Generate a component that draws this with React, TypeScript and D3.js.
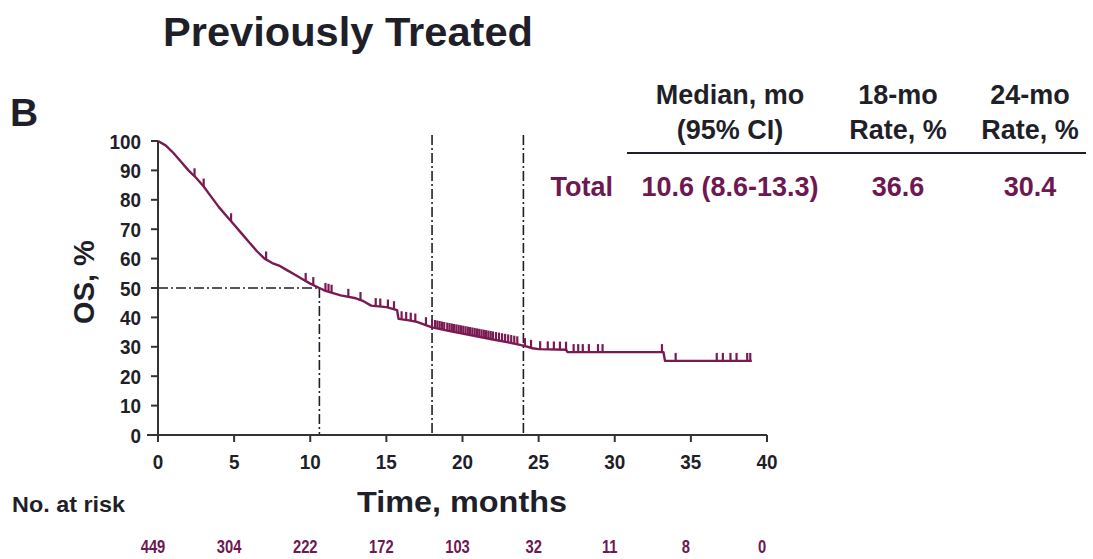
import React from "react";
import * as d3 from "d3";

const curveTimes = [0, 0.5, 1, 1.5, 2, 2.5, 3, 3.5, 4, 4.5, 5, 5.5, 6, 6.5, 7, 7.5, 8, 8.5, 9, 9.5, 10, 10.6, 11, 12, 13, 13.5, 14, 15, 15.7, 15.8, 16.5, 17, 18, 19, 20, 21, 22, 23, 24, 24.6, 25, 26.8, 26.9, 33.2, 33.3, 39];
const curveSurv = [100, 98.5, 96, 93, 90, 87.5, 84.5, 81, 77.5, 74.5, 71.5, 68.5, 65.5, 62.5, 60, 58.5, 57.5, 56, 54.5, 53, 51.5, 50, 49, 47.5, 46.5, 45.5, 44, 43.5, 42.5, 39.5, 39, 38.5, 36.6, 35.5, 34.5, 33.5, 32.5, 31.5, 30.4, 29.5, 29.2, 29, 28.2, 28.2, 25.2, 25.2];
const censorTimes = [2.4, 3.0, 4.8, 7.1, 9.7, 10.2, 11.0, 11.2, 11.4, 12.5, 13.3, 14.3, 14.6, 15.1, 15.5, 16.0, 16.3, 16.6, 16.9, 17.6, 18.0, 18.2, 18.35, 18.5, 18.65, 18.8, 19.0, 19.15, 19.3, 19.45, 19.6, 19.75, 19.9, 20.05, 20.2, 20.35, 20.5, 20.65, 20.8, 20.95, 21.1, 21.25, 21.4, 21.55, 21.7, 21.85, 22.0, 22.2, 22.4, 22.6, 22.8, 23.0, 23.2, 23.4, 23.6, 24.1, 24.5, 25.1, 25.6, 26.0, 26.4, 26.8, 27.3, 27.6, 27.9, 28.3, 28.9, 29.2, 33.1, 34.0, 36.7, 37.1, 37.6, 38.0, 38.7, 38.9];
const xTicks = [0, 5, 10, 15, 20, 25, 30, 35, 40];
const yTicks = [0, 10, 20, 30, 40, 50, 60, 70, 80, 90, 100];
const atRisk = [449, 304, 222, 172, 103, 32, 11, 8, 0];
const medianMonths = 10.6;
const rateMonths = [18, 24];
const tableHeaders1 = ["Median, mo", "18-mo", "24-mo"];
const tableHeaders2 = ["(95% CI)", "Rate, %", "Rate, %"];
const tableRowLabel = "Total";
const tableRow = ["10.6 (8.6-13.3)", "36.6", "30.4"];

const PURPLE = "#6e1750";
const CURVE = "#7a1a52";
const INK = "#1f1f2a";
const SANS = "'Liberation Sans', Arial, sans-serif";

function Txt(props: { x: number; y: number; size: number; sx?: number; anchor?: string; fill?: string; children: React.ReactNode; len?: number }) {
  const { x, y, size, sx = 1, anchor = "start", fill = INK, children, len } = props;
  return (
    <text
      transform={`translate(${x},${y}) scale(${sx},1)`}
      textAnchor={anchor}
      fontFamily={SANS}
      fontWeight="bold"
      fontSize={size}
      fill={fill}
      {...(len ? { textLength: len, lengthAdjust: "spacingAndGlyphs" } : {})}
    >
      {children}
    </text>
  );
}

export default function App() {
  const x = d3.scaleLinear().domain([0, 40]).range([158, 767]);
  const y = d3.scaleLinear().domain([0, 100]).range([435, 141]);
  const pts: [number, number][] = curveTimes.map((t, i) => [t, curveSurv[i]]);
  const line = d3.line<[number, number]>().x((d) => x(d[0])).y((d) => y(d[1]));
  const survAt = (t: number) => {
    for (let i = curveTimes.length - 1; i >= 0; i--) {
      if (curveTimes[i] <= t) {
        if (i === curveTimes.length - 1) return curveSurv[i];
        const t0 = curveTimes[i], t1 = curveTimes[i + 1];
        const f = (t - t0) / (t1 - t0);
        return curveSurv[i] + f * (curveSurv[i + 1] - curveSurv[i]);
      }
    }
    return 100;
  };
  const dash = "10 3 2 3";
  const colX = [730, 898, 1030];
  return (
    <svg width={1093} height={559} style={{ position: "absolute", left: 0, top: 0, background: "#fff" }}>
      <Txt x={163} y={46} size={41} len={370}>Previously Treated</Txt>
      <Txt x={10} y={126} size={39}>B</Txt>

      {/* table */}
      {tableHeaders1.map((h, i) => (
        <Txt key={"h1" + i} x={colX[i]} y={104} size={27} anchor="middle">{h}</Txt>
      ))}
      {tableHeaders2.map((h, i) => (
        <Txt key={"h2" + i} x={colX[i]} y={139} size={27} anchor="middle">{h}</Txt>
      ))}
      <line x1={627} x2={1086} y1={153} y2={153} stroke={INK} strokeWidth={2.2} />
      <Txt x={613} y={196} size={27} anchor="end" fill={PURPLE}>{tableRowLabel}</Txt>
      {tableRow.map((v, i) => (
        <Txt key={"r" + i} x={colX[i]} y={196} size={27} anchor="middle" fill={PURPLE}>{v}</Txt>
      ))}

      {/* reference lines */}
      <line x1={x(0)} x2={x(medianMonths)} y1={y(50)} y2={y(50)} stroke={INK} strokeWidth={1.6} strokeDasharray={dash} />
      <line x1={x(medianMonths)} x2={x(medianMonths)} y1={y(50)} y2={y(0)} stroke={INK} strokeWidth={1.6} strokeDasharray={dash} />
      {rateMonths.map((m) => (
        <line key={m} x1={x(m)} x2={x(m)} y1={135} y2={y(0)} stroke={INK} strokeWidth={1.6} strokeDasharray={dash} />
      ))}

      {/* axes */}
      <line x1={x(0)} x2={x(0)} y1={y(100)} y2={442} stroke="#333" strokeWidth={2} />
      {yTicks.map((t) => (
        <g key={"y" + t}>
          <line x1={x(0) - 7} x2={x(0)} y1={y(t)} y2={y(t)} stroke="#333" strokeWidth={2} />
          <Txt x={141} y={y(t) + 7.5} size={21} sx={0.9} anchor="end">{t}</Txt>
        </g>
      ))}
      <line x1={147} x2={x(40)} y1={y(0)} y2={y(0)} stroke="#333" strokeWidth={2} />
      {xTicks.map((t, i) => (
        <g key={"x" + t}>
          <line x1={x(t)} x2={x(t)} y1={y(0)} y2={y(0) + 7} stroke="#333" strokeWidth={2} />
          <Txt x={x(t)} y={469} size={21} sx={0.9} anchor="middle">{t}</Txt>
          <Txt x={x(t) - 5} y={553} size={18} sx={0.82} anchor="middle" fill={PURPLE}>{atRisk[i]}</Txt>
        </g>
      ))}
      <text transform={`translate(94,282) rotate(-90)`} textAnchor="middle" fontFamily={SANS} fontWeight="bold" fontSize={29} fill={INK}>OS, %</text>
      <Txt x={357} y={512} size={30} len={210}>Time, months</Txt>
      <Txt x={12} y={512} size={22} len={113}>No. at risk</Txt>

      {/* KM curve */}
      <path d={line(pts) || ""} fill="none" stroke={CURVE} strokeWidth={2.4} strokeLinejoin="round" />
      {censorTimes.map((t, i) => {
        const s = survAt(t);
        return <line key={"c" + i} x1={x(t)} x2={x(t)} y1={y(s)} y2={y(s) - 8} stroke={CURVE} strokeWidth={2.2} />;
      })}
    </svg>
  );
}
